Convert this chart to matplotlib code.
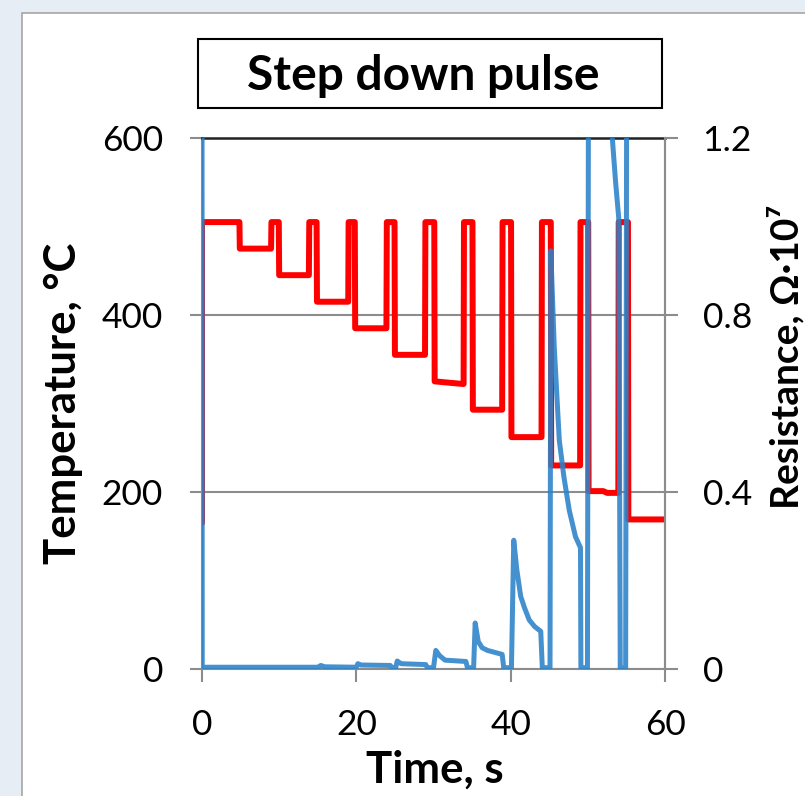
import matplotlib
matplotlib.use("Agg")
import matplotlib.pyplot as plt
from matplotlib.patches import Rectangle

plt.rcParams['font.family'] = ['Lato', 'DejaVu Sans']

# Temperature (red, left axis)
temp_t = [0, 0, 4.85, 4.9, 8.95, 9.0, 9.95, 10.0, 13.85, 13.9, 14.85, 14.9,
          18.95, 19.0, 19.8, 19.85, 23.9, 23.95, 24.95, 25.0, 28.9, 28.95,
          30.1, 30.15, 33.9, 33.95, 35.05, 35.1, 38.9, 38.95, 40.05, 40.1,
          44.0, 44.05, 45.2, 45.25, 49.0, 49.05, 50.05, 50.1, 52.0, 52.5,
          53.95, 54.0, 55.2, 55.25, 60.0]
temp_v = [165, 505, 505, 475, 475, 505, 505, 445, 445, 505, 505, 415,
          415, 505, 505, 385, 385, 505, 505, 355, 355, 505,
          505, 325, 322, 505, 505, 293, 293, 505, 505, 262,
          262, 505, 505, 230, 230, 505, 505, 201, 201, 199,
          199, 505, 505, 169, 169]

# Resistance (blue, right axis), values x 10^7 Ohm
res_t = [0, 0.03, 15.0, 15.4, 15.9, 20.0, 20.2, 20.6, 24.4, 24.6, 25.1, 25.3,
         25.8, 29.0, 29.2, 30.0, 30.3, 30.8, 31.5, 34.2, 34.4, 35.2, 35.4,
         35.8, 36.3, 37.0, 38.9, 39.1, 40.1, 40.4, 40.8, 41.3, 41.8, 42.4,
         43.1, 43.9, 44.1, 45.1, 45.2, 45.65, 46.3, 46.9, 47.6, 48.4, 49.05,
         49.1, 49.95, 50.1, 52.9, 53.15, 53.6, 54.0, 54.2, 54.9, 55.05, 60.0]
res_v = [1.5, 0.004, 0.004, 0.008, 0.005, 0.004, 0.012, 0.009, 0.008, 0.003, 0.003, 0.018,
         0.012, 0.010, 0.003, 0.003, 0.042, 0.030, 0.020, 0.017, 0.003, 0.003, 0.104,
         0.062, 0.048, 0.042, 0.033, 0.003, 0.003, 0.291, 0.224, 0.164, 0.138, 0.111,
         0.096, 0.085, 0.003, 0.003, 0.945, 0.727, 0.517, 0.434, 0.358, 0.299, 0.274,
         0.003, 0.003, 1.5, 1.5, 1.205, 1.10, 1.02, 0.003, 0.003, 1.5, 1.5]

x_ticks = [0, 20, 40, 60]
temp_ticks = [0, 200, 400, 600]
res_ticks = [0, 0.4, 0.8, 1.2]
res_labels = ['0', '0.4', '0.8', '1.2']

W, H = 805, 796
fig = plt.figure(figsize=(W / 100, H / 100), dpi=100, facecolor='#e6edf4')

# white chart frame
fig.patches.append(Rectangle((22 / W, -0.01), 1.0, 1 - 13 / H + 0.01,
                             transform=fig.transFigure, facecolor='white',
                             edgecolor='#a6a6a6', lw=1.2, zorder=-5))

ax = fig.add_axes([202 / W, 1 - 669 / H, (665 - 202) / W, (669 - 138) / H])
ax.set_zorder(5)
ax.set_facecolor('none')
grey = '#8c8c8c'

ax.plot(temp_t, temp_v, color='#ff0000', lw=4.3, solid_joinstyle='round',
        solid_capstyle='round', zorder=3)
ax.set_xlim(0, 60)
ax.set_ylim(0, 600)
ax.set_xticks(x_ticks)
ax.set_yticks(temp_ticks)
ax.grid(axis='y', color=grey, lw=1.5, zorder=1)
for s in ['left', 'bottom', 'right']:
    ax.spines[s].set_color(grey)
    ax.spines[s].set_linewidth(1.5)
ax.spines['top'].set_color('#222222')
ax.spines['top'].set_linewidth(1.8)
ax.tick_params(axis='both', direction='out', length=9, width=1.5, color=grey,
               labelsize=25.5)
ax.tick_params(axis='x', pad=20)
ax.tick_params(axis='y', pad=19)

ax2 = ax.twinx()
ax2.set_zorder(6)
ax2.set_facecolor('none')
ax2.plot(res_t, res_v, color='#2b82c9', alpha=0.88, lw=3.6,
         solid_joinstyle='round', zorder=4)
ax2.set_ylim(0, 1.2)
ax2.set_yticks(res_ticks)
ax2.set_yticklabels(res_labels)
for s in ['left', 'bottom', 'top']:
    ax2.spines[s].set_visible(False)
ax2.spines['right'].set_color(grey)
ax2.spines['right'].set_linewidth(1.5)
ax2.tick_params(axis='y', direction='out', length=9, width=1.5, color=grey,
                labelsize=25.5, pad=18)

# axis titles
fig.text(435 / W, 1 - 783 / H, 'Time, s', fontsize=31.5, fontweight='bold',
         ha='center', va='baseline')
fig.text(63 / W, 1 - 403 / H, 'Temperature, °C', fontsize=31.5,
         fontweight='bold', rotation=90, ha='center', va='center')
fig.text(786 / W, 1 - 357 / H, 'Resistance, Ω·10⁷', fontsize=28,
         fontweight='bold', rotation=90, ha='center', va='center')

# title in box
fig.patches.append(Rectangle((198 / W, 1 - 108 / H), 464 / W, 69 / H,
                             transform=fig.transFigure, facecolor='white',
                             edgecolor='black', lw=1.5, zorder=2))
fig.text(423 / W, 1 - 76 / H, 'Step down pulse', fontsize=34.5,
         fontweight='bold', ha='center', va='center', zorder=3)

fig.savefig('out.png', dpi=100, facecolor=fig.get_facecolor())
